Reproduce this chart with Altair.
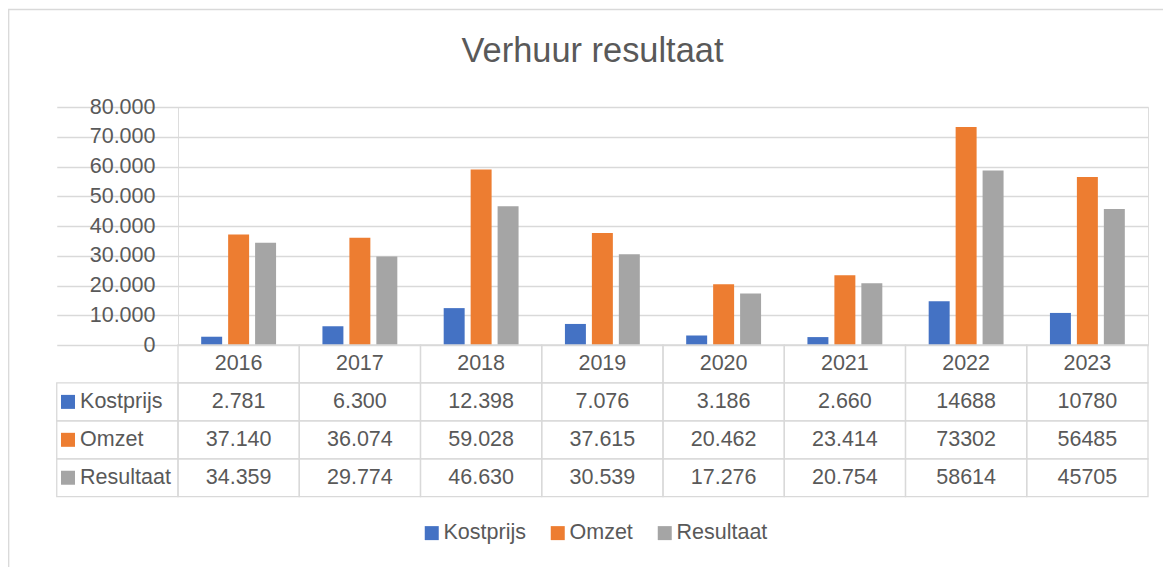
import altair as alt
import pandas as pd

# ---------------- data ----------------
title_text = "Verhuur resultaat"
years = ["2016", "2017", "2018", "2019", "2020", "2021", "2022", "2023"]
series = ["Kostprijs", "Omzet", "Resultaat"]
kostprijs = [2781, 6300, 12398, 7076, 3186, 2660, 14688, 10780]
omzet = [37140, 36074, 59028, 37615, 20462, 23414, 73302, 56485]
resultaat = [34359, 29774, 46630, 30539, 17276, 20754, 58614, 45705]
kostprijs_txt = ["2.781", "6.300", "12.398", "7.076", "3.186", "2.660", "14688", "10780"]
omzet_txt = ["37.140", "36.074", "59.028", "37.615", "20.462", "23.414", "73302", "56485"]
resultaat_txt = ["34.359", "29.774", "46.630", "30.539", "17.276", "20.754", "58614", "45705"]
y_ticks = [0, 10000, 20000, 30000, 40000, 50000, 60000, 70000, 80000]
colors = ["#4472C4", "#ED7D31", "#A5A5A5"]

# ---------------- layout / style ----------------
FONT = "Liberation Sans"
TXT = "#595959"
LINE = "#D9D9D9"
W, H = 970, 238
BAND = W / len(years)
TABLE_H = 151.7

values = {"Kostprijs": kostprijs, "Omzet": omzet, "Resultaat": resultaat}
texts = {"Kostprijs": kostprijs_txt, "Omzet": omzet_txt, "Resultaat": resultaat_txt}

bars_df = pd.DataFrame(
    [{"col": y, "series": s, "value": values[s][i]} for s in series for i, y in enumerate(years)]
)
cols = ["lbl"] + years
rows = ["hdr"] + series

cells = [{"col": c, "row": r} for r in rows for c in cols if not (c == "lbl" and r == "hdr")]
cells_df = pd.DataFrame(cells)

txt_rows = [{"col": y, "row": "hdr", "text": y} for y in years]
for s in series:
    for i, y in enumerate(years):
        txt_rows.append({"col": y, "row": s, "text": texts[s][i]})
txt_df = pd.DataFrame(txt_rows)

lbl_df = pd.DataFrame([{"col": "lbl", "row": s, "series": s} for s in series])

x_scale = alt.Scale(domain=cols, range=[-BAND, W], paddingInner=0, paddingOuter=0)
row_scale = alt.Scale(domain=rows, range=[H, H + TABLE_H], paddingInner=0, paddingOuter=0)
color_scale = alt.Scale(domain=series, range=colors)

bars = alt.Chart(bars_df).mark_bar().encode(
    x=alt.X("col:N", scale=x_scale, axis=None),
    xOffset=alt.XOffset("series:N", scale=alt.Scale(domain=series, paddingInner=0.222, paddingOuter=0.86)),
    y=alt.Y(
        "value:Q",
        scale=alt.Scale(domain=[0, 80000], nice=False),
        axis=alt.Axis(
            values=y_ticks,
            title=None,
            labelExpr="replace(format(datum.value, ','), ',', '.')",
            grid=True,
            gridColor=LINE,
            gridWidth=1.3,
            domain=False,
            ticks=False,
            tickSize=0,
            labelPadding=23,
            labelFont=FONT,
            labelFontSize=21.5,
            labelColor=TXT,
        ),
    ),
    color=alt.Color(
        "series:N",
        scale=color_scale,
        legend=alt.Legend(
            title=None,
            orient="none",
            legendX=243,
            legendY=415,
            direction="horizontal",
            symbolType="square",
            symbolSize=196,
            symbolStrokeWidth=0,
            symbolOpacity=1,
            labelFont=FONT,
            labelFontSize=21.5,
            labelColor=TXT,
            labelOffset=1,
            columnPadding=21,
            padding=0,
        ),
    ),
)

cell_rects = alt.Chart(cells_df).mark_rect(fillOpacity=0, stroke=LINE, strokeWidth=1.3).encode(
    x=alt.X("col:N", scale=x_scale, axis=None),
    y=alt.Y("row:N", scale=row_scale, axis=None),
)

cell_text = alt.Chart(txt_df).mark_text(
    font=FONT, fontSize=21.5, color=TXT, align="center", baseline="middle"
).encode(
    x=alt.X("col:N", scale=x_scale, axis=None),
    y=alt.Y("row:N", scale=row_scale, axis=None),
    text="text:N",
)

swatches = alt.Chart(lbl_df).mark_point(shape="square", filled=True, size=196, opacity=1, strokeWidth=0).encode(
    x=alt.X("col:N", scale=x_scale, axis=None, bandPosition=0.093),
    y=alt.Y("row:N", scale=row_scale, axis=None),
    color=alt.Color("series:N", scale=color_scale, legend=None),
)

row_labels = alt.Chart(lbl_df).mark_text(
    font=FONT, fontSize=21.5, color=TXT, align="left", baseline="middle", dx=23.3
).encode(
    x=alt.X("col:N", scale=x_scale, axis=None, bandPosition=0),
    y=alt.Y("row:N", scale=row_scale, axis=None),
    text="series:N",
)

frame = alt.Chart(pd.DataFrame({"k": [0]})).mark_rect(fillOpacity=0, stroke=LINE, strokeWidth=1.3).encode(
    x=alt.value(-169.3), x2=alt.value(1100), y=alt.value(-97.5), y2=alt.value(600)
)

chart = (
    alt.layer(frame, bars, cell_rects, cell_text, swatches, row_labels)
    .resolve_scale(y="independent")
    .properties(
        width=W,
        height=H,
        autosize=alt.AutoSizeParams(type="none"),
        padding={"left": 170, "top": 99, "right": 15, "bottom": 222},
        title=alt.TitleParams(
            text=title_text,
            font=FONT,
            fontSize=34.4,
            fontWeight="normal",
            color=TXT,
            anchor="middle",
            frame="group",
            dx=-70.5,
            baseline="alphabetic",
            offset=-88,
        ),
    )
    .configure_view(stroke=None)
    .configure(background="white")
)

chart.save("out.html", embed_options={"renderer": "svg", "actions": False})
